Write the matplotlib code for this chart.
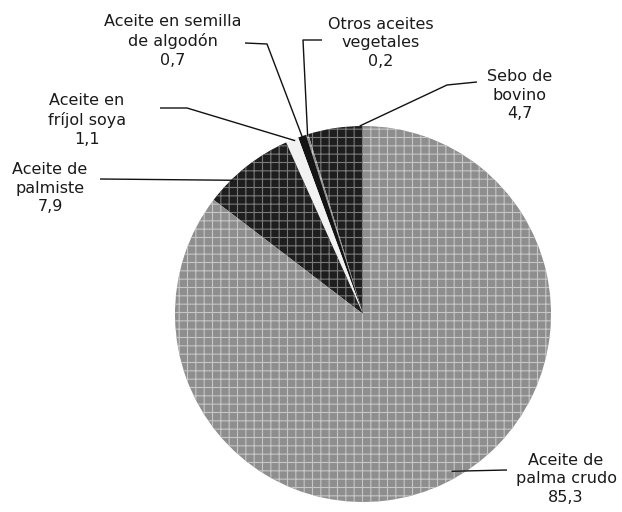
import matplotlib
matplotlib.use('Agg')
import matplotlib.pyplot as plt
import numpy as np

# ---- data ----
categories = ['Sebo de\nbovino', 'Otros aceites\nvegetales', 'Aceite en semilla\nde algodón',
              'Aceite en\nfríjol soya', 'Aceite de\npalmiste', 'Aceite de\npalma crudo']
values = [4.7, 0.2, 0.7, 1.1, 7.9, 85.3]
value_labels = ['4,7', '0,2', '0,7', '1,1', '7,9', '85,3']

# ---- layout (pixel coordinates, y measured from top) ----
W, H = 622, 512
cx, cy, r = 363, 314, 188
label_pos = [(520, 95), (381, 43), (173, 41), (87, 120), (50, 188), (566, 479)]
leader_pts = [[(477, 82), (447, 85)],
              [(322, 40), (303, 40)],
              [(245, 43), (267, 44)],
              [(160, 108), (187, 108)],
              [(100, 179)],
              [(507, 470)]]
anchor_frac = [0.06, 0.5, 0.5, 0.3, 0.7, 0.51]
anchor_rad = [1.0, 0.99, 0.99, 0.99, 0.99, 0.96]

faces = ['#1e1e1e', '#8c8c8c', '#141414', '#f2f2f2', '#1e1e1e', '#8e8e8e']
hatchcols = ['#7a7a7a', '#c8c8c8', '#4a4a4a', '#f2f2f2', '#7a7a7a', '#c6c6c6']
hatches = ['++', '++', None, None, '++', '++']

plt.rcParams['hatch.linewidth'] = 0.8

fig = plt.figure(figsize=(W / 100, H / 100), dpi=100)
ax = fig.add_axes([0, 0, 1, 1])

wedges, _ = ax.pie(values, startangle=90, counterclock=True, center=(cx, H - cy),
                   radius=r, colors=faces, wedgeprops=dict(linewidth=0))
for w, hc, ht in zip(wedges, hatchcols, hatches):
    w.set_edgecolor(hc)
    w.set_linewidth(0)
    if ht:
        w.set_hatch(ht)

ax.set_xlim(0, W)
ax.set_ylim(0, H)
ax.set_aspect('equal')
ax.axis('off')

for i, w in enumerate(wedges):
    t1, t2 = w.theta1, w.theta2
    ang = np.deg2rad(t1 + anchor_frac[i] * (t2 - t1))
    ex = cx + anchor_rad[i] * r * np.cos(ang)
    ey = (H - cy) + anchor_rad[i] * r * np.sin(ang)
    xs = [p[0] for p in leader_pts[i]] + [ex]
    ys = [H - p[1] for p in leader_pts[i]] + [ey]
    ax.plot(xs, ys, color='#111111', lw=1.0, solid_capstyle='butt')
    lx, ly = label_pos[i]
    ax.text(lx, H - ly, categories[i] + '\n' + value_labels[i], ha='center', va='center',
            fontsize=11.5, linespacing=1.3, color='#1a1a1a', family='DejaVu Sans')

fig.savefig('out.png', dpi=100, facecolor='white')
